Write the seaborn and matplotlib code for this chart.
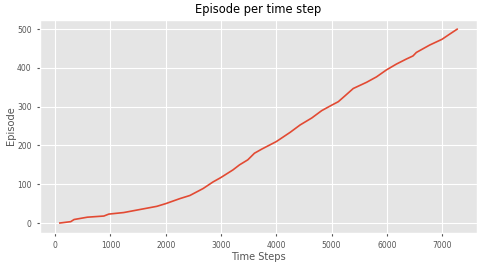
import matplotlib
matplotlib.use("Agg")
import matplotlib.pyplot as plt
import seaborn as sns
import pandas as pd

time_steps = [84, 281, 341, 581, 880, 970, 1240, 1539, 1838, 2000, 2257, 2437,
              2677, 2856, 2994, 3216, 3335, 3485, 3605, 3742, 4000, 4252, 4432,
              4643, 4823, 5003, 5123, 5243, 5393, 5634, 5814, 5994, 6174, 6354,
              6474, 6535, 6775, 7000, 7135, 7273]
episodes = [0, 3.5, 9, 15, 18, 23, 27, 35, 43, 50, 63, 71,
            89, 106, 117, 137, 150, 163, 180, 191, 210, 234, 253,
            271, 290, 304, 313, 328, 347, 363, 377, 395, 410, 423,
            431, 440, 459, 474, 487, 500]

plt.style.use("ggplot")
plt.rcParams["font.size"] = 5.9
plt.rcParams["font.family"] = ["DejaVu Sans"]

df = pd.DataFrame({"Time Steps": time_steps, "Episode": episodes})

fig = plt.figure(figsize=(4.86, 2.65), dpi=100)
ax = fig.add_axes([40 / 486, 1 - 232.7 / 265, 437 / 486, (232.7 - 19.5) / 265])
sns.lineplot(data=df, x="Time Steps", y="Episode", ax=ax, color="#E24A33", linewidth=1.2)
ax.set_title("Episode per time step", color="black", pad=4.5, fontsize=8.3)
ax.tick_params(labelsize=5.5, length=2.5)
ax.set_xticks([0, 1000, 2000, 3000, 4000, 5000, 6000, 7000])
ax.set_yticks([0, 100, 200, 300, 400, 500])
ax.set_ylabel("Episode", labelpad=1)
ax.set_xlabel("Time Steps", labelpad=1.5)
fig.savefig("out.png", dpi=100)
